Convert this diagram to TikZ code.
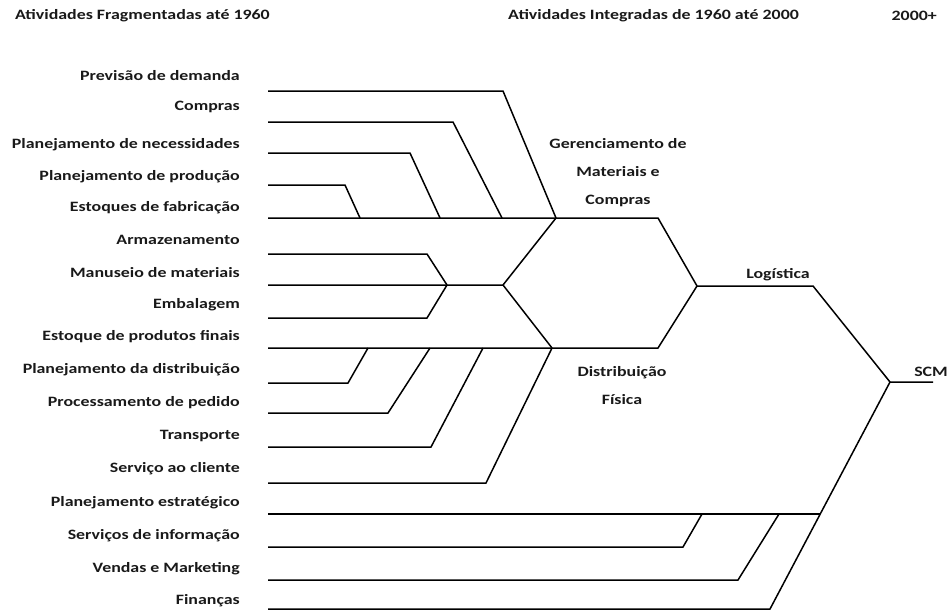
\documentclass[tikz,border=0pt]{standalone}
\usepackage{fontspec}
\newfontfamily\lblfont{Carlito}[FakeStretch=1.25]

\begin{document}
\begin{tikzpicture}[
    x=1pt, y=-1pt,
    lbl/.style = {anchor=east, inner sep=0pt, text=black!90,
      font=\lblfont\bfseries\fontsize{14.3}{17}\selectfont},
    head/.style = {lbl, anchor=west},
    grp/.style = {inner sep=0pt, align=center, text=black!90,
      font=\lblfont\bfseries\fontsize{14.3}{28}\selectfont},
    branch/.style = {draw, line width=1.5pt}
  ]
  \useasboundingbox (0,0) rectangle (949,610);

  % titulos
  \node[head] (hfrag) at (15,16) {Atividades Fragmentadas até 1960};
  \node[head] (hinteg) at (508,16) {Atividades Integradas de 1960 até 2000};
  \node[lbl] (hnovo) at (937,16) {2000+};

  % atividades
  \foreach \i/\ty/\ly/\txt in {
      1/76/91/Previsão de demanda,
      2/107/122/Compras,
      3/145/153/Planejamento de necessidades,
      4/177/185/Planejamento de produção,
      5/208/218/Estoques de fabricação,
      6/240/254/Armazenamento,
      7/273/285/Manuseio de materiais,
      8/305/318/Embalagem,
      9/337/348/Estoque de produtos finais,
      10/370/383/Planejamento da distribuição,
      11/403/413/Processamento de pedido,
      12/436/447/Transporte,
      13/469/483/Serviço ao cliente,
      14/503/514/Planejamento estratégico,
      15/536/547/Serviços de informação,
      16/569/580/Vendas e Marketing,
      17/601/609/Finanças} {
    \node[lbl] (a\i) at (240,\ty) {\txt};
    \coordinate (s\i) at (268,\ly);
  }

  % juncoes
  \coordinate (gm) at (556,218);
  \coordinate (man) at (447,285);
  \coordinate (mat) at (503,285);
  \coordinate (df) at (552,348);
  \coordinate (log) at (697,286);
  \coordinate (scm) at (890,382);

  \node[grp] (gmtxt) at (618,173) {Gerenciamento de\\Materiais e\\Compras};
  \node[grp] (dftxt) at (622,386) {Distribuição\\Física};
  \node[grp] (logtxt) at (778,275) {Logística};
  \node[grp] (scmtxt) at (931,372) {SCM};

  \begin{scope}[every path/.style=branch]
    \path (s1) -- (503,91) -- (gm);
    \path (s2) -- (453,122) -- (502,218);
    \path (s3) -- (410,153) -- (440,218);
    \path (s4) -- (345,185) -- (360,218);
    \path (s5) -- (gm) -- (658,218) -- (log);
    \path (s6) -- (427,254) -- (man);
    \path (s7) -- (man) -- (mat) -- (gm);
    \path (s8) -- (427,318) -- (man);
    \path (mat) -- (df);
    \path (s9) -- (df) -- (658,348) -- (log);
    \path (s10) -- (348,383) -- (368,348);
    \path (s11) -- (388,413) -- (430,348);
    \path (s12) -- (431,447) -- (483,348);
    \path (s13) -- (486,483) -- (df);
    \path (log) -- (813,286) -- (scm) -- (933,382);
    \path (s14) -- (820,514);
    \path (s15) -- (683,547) -- (702,514);
    \path (s16) -- (738,580) -- (779,514);
    \path (s17) -- (770,609) -- (scm);
  \end{scope}
\end{tikzpicture}
\end{document}
